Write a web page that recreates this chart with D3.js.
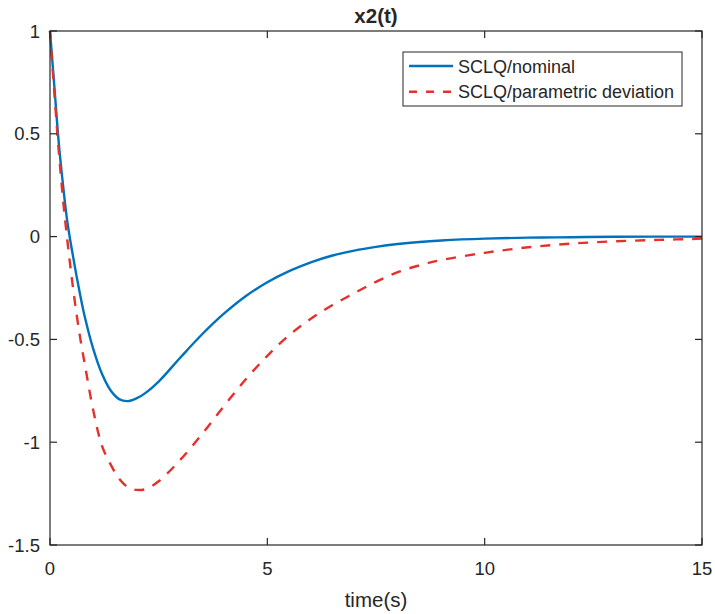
<!DOCTYPE html>
<html>
<head>
<meta charset="utf-8">
<script src="https://cdn.jsdelivr.net/npm/d3@7"></script>
<style>
  body { margin: 0; background: #fff; }
  text { font-family: "Liberation Sans", Arial, Helvetica, sans-serif; fill: #262626; }
</style>
</head>
<body>
<svg id="chart"></svg>
<script>
const timeValues = [0, 0.1, 0.2, 0.3, 0.4, 0.5, 0.6, 0.7, 0.8, 1.0, 1.2, 1.4, 1.6, 1.8, 2.0, 2.2, 2.5, 3.0, 3.5, 4.0, 4.5, 5.0, 5.5, 6.0, 6.5, 7.0, 7.5, 8.0, 8.5, 9.0, 10, 11, 12, 13, 14, 15];
const nominalValues = [1.0, 0.73, 0.46, 0.25, 0.07, -0.06, -0.18, -0.29, -0.39, -0.55, -0.67, -0.75, -0.792, -0.8, -0.786, -0.76, -0.705, -0.588, -0.475, -0.375, -0.29, -0.222, -0.168, -0.125, -0.092, -0.068, -0.05, -0.036, -0.026, -0.019, -0.01, -0.005, -0.003, -0.001, 0, 0];
const deviationValues = [1.0, 0.7, 0.42, 0.18, -0.02, -0.2, -0.36, -0.5, -0.62, -0.85, -1.02, -1.11, -1.18, -1.22, -1.232, -1.228, -1.19, -1.085, -0.96, -0.825, -0.695, -0.58, -0.48, -0.4, -0.333, -0.275, -0.22, -0.173, -0.14, -0.114, -0.079, -0.052, -0.034, -0.023, -0.016, -0.01];
const seriesNames = ['SCLQ/nominal', 'SCLQ/parametric deviation'];
const xTicks = [0, 5, 10, 15];
const yTicks = [-1.5, -1, -0.5, 0, 0.5, 1];

const width = 715, height = 614;
const margin = { top: 31, right: 13, bottom: 69, left: 50 };
const innerW = width - margin.left - margin.right;
const innerH = height - margin.top - margin.bottom;
const axisColor = '#262626';

const svg = d3.select('#chart').attr('width', width).attr('height', height);
const g = svg.append('g').attr('transform', `translate(${margin.left},${margin.top})`);

const x = d3.scaleLinear().domain([0, 15]).range([0, innerW]);
const y = d3.scaleLinear().domain([-1.5, 1]).range([innerH, 0]);

// curves
const series = [
  { name: seriesNames[0], values: nominalValues, color: '#0072bd', dash: null },
  { name: seriesNames[1], values: deviationValues, color: '#e3312b', dash: '10,9' },
];
const line = d3.line()
  .x((d) => x(d[0]))
  .y((d) => y(d[1]))
  .curve(d3.curveCatmullRom.alpha(0.5));

series.forEach((s) => {
  g.append('path')
    .datum(timeValues.map((t, i) => [t, s.values[i]]))
    .attr('fill', 'none')
    .attr('stroke', s.color)
    .attr('stroke-width', 2.4)
    .attr('stroke-dasharray', s.dash)
    .attr('d', line);
});

// box and inward ticks, MATLAB style
g.append('rect')
  .attr('width', innerW)
  .attr('height', innerH)
  .attr('fill', 'none')
  .attr('stroke', axisColor)
  .attr('stroke-width', 1.2);

const tickLen = 7;
xTicks.forEach((t) => {
  g.append('line').attr('x1', x(t)).attr('x2', x(t)).attr('y1', innerH).attr('y2', innerH - tickLen)
    .attr('stroke', axisColor).attr('stroke-width', 1.2);
  g.append('line').attr('x1', x(t)).attr('x2', x(t)).attr('y1', 0).attr('y2', tickLen)
    .attr('stroke', axisColor).attr('stroke-width', 1.2);
  g.append('text')
    .attr('x', x(t))
    .attr('y', innerH + 30)
    .attr('text-anchor', 'middle')
    .attr('font-size', '18.5px')
    .text(t);
});
yTicks.forEach((v) => {
  g.append('line').attr('x1', 0).attr('x2', tickLen).attr('y1', y(v)).attr('y2', y(v))
    .attr('stroke', axisColor).attr('stroke-width', 1.2);
  g.append('line').attr('x1', innerW).attr('x2', innerW - tickLen).attr('y1', y(v)).attr('y2', y(v))
    .attr('stroke', axisColor).attr('stroke-width', 1.2);
  g.append('text')
    .attr('x', -10)
    .attr('y', y(v) + 6.5)
    .attr('text-anchor', 'end')
    .attr('font-size', '18.5px')
    .text(v);
});

// title and axis label
svg.append('text')
  .attr('x', margin.left + innerW / 2)
  .attr('y', 23)
  .attr('text-anchor', 'middle')
  .attr('font-size', '20.5px')
  .attr('font-weight', 'bold')
  .text('x2(t)');
svg.append('text')
  .attr('x', margin.left + innerW / 2)
  .attr('y', 607)
  .attr('text-anchor', 'middle')
  .attr('font-size', '20.5px')
  .text('time(s)');

// legend
const legend = svg.append('g').attr('transform', 'translate(403,52)');
legend.append('rect')
  .attr('width', 279)
  .attr('height', 54)
  .attr('fill', '#fff')
  .attr('stroke', axisColor)
  .attr('stroke-width', 1);
series.forEach((s, i) => {
  const ly = 14 + i * 25.7;
  legend.append('line')
    .attr('x1', 6).attr('x2', 50).attr('y1', ly).attr('y2', ly)
    .attr('stroke', s.color)
    .attr('stroke-width', 2.4)
    .attr('stroke-dasharray', s.dash ? '8,9' : null);
  legend.append('text')
    .attr('x', 55)
    .attr('y', ly + 6.5)
    .attr('font-size', '18px')
    .text(s.name);
});
</script>
</body>
</html>
